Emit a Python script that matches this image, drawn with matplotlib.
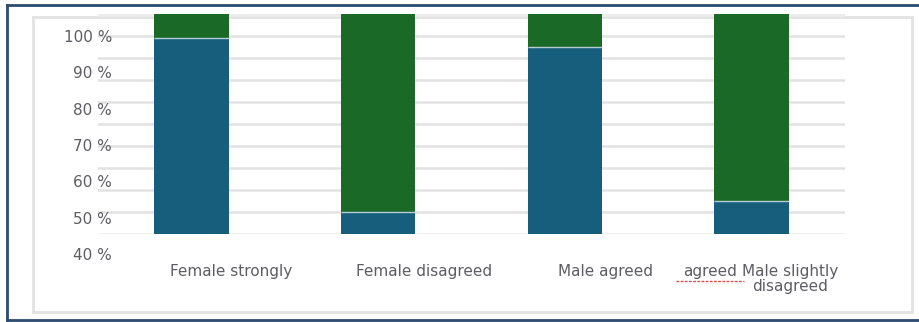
import numpy as np
import matplotlib
matplotlib.use("Agg")
import matplotlib.pyplot as plt
from matplotlib.patches import Rectangle
from matplotlib.lines import Line2D

# data (share of answers, %)
categories = ["Female strongly", "Female disagreed", "Male agreed", "Male slightly\ndisagreed"]
blue_share = [89, 10, 85, 15]
green_share = [11, 90, 15, 85]
tick_values = [40, 50, 60, 70, 80, 90, 100]

W, H = 920, 322
fig = plt.figure(figsize=(W / 100, H / 100), dpi=100)
plt.rcParams['font.family'] = ['DejaVu Sans']

txt_col = '#5d5d63'
blue = '#175e7d'
green = '#1b6926'

# main plot area
ax = fig.add_axes([98 / W, 1 - 234 / H, 747 / W, 220 / H])
x = np.arange(len(categories))
ax.bar(x, blue_share, width=0.40, color=blue, linewidth=0, zorder=3)
ax.bar(x, green_share, width=0.40, bottom=blue_share, color=green, linewidth=0, zorder=3)
# thin light seam between the two segments
ax.hlines(blue_share, x - 0.2, x + 0.2, color='#b8ccd6', lw=1, zorder=4)
ax.set_xlim(-0.5, 3.5)
ax.set_ylim(0, 100)
for v in range(10, 100, 10):
    ax.axhline(v, color='#e2e2e2', lw=1.8, zorder=1)
ax.axhline(100, color='#ececec', lw=3.5, zorder=1)
ax.axhline(0, color='#ececec', lw=2, zorder=1)
for s in ax.spines.values():
    s.set_visible(False)
ax.set_xticks([])
ax.set_yticks([])
ax.patch.set_alpha(0)

# y labels (they sit on their own scale in the original)
lab = fig.add_axes([115 / W, 1 - 254 / H, 0.001, 218 / H])
lab.set_ylim(40, 100)
lab.set_yticks(tick_values)
lab.set_yticklabels([f"{v} %" for v in tick_values], fontsize=11, color=txt_col)
lab.tick_params(axis='y', length=0, pad=2)
lab.set_xticks([])
for s in lab.spines.values():
    s.set_visible(False)
lab.patch.set_alpha(0)

# category labels
label_px = [231, 424, 605, 790]
for name, px in zip(categories, label_px):
    fig.text(px / W, 1 - 264 / H, name, ha='center', va='top', fontsize=11,
             color=txt_col, linespacing=1.0)
fig.text(710 / W, 1 - 264 / H, "agreed", ha='center', va='top', fontsize=11, color=txt_col)
fig.add_artist(Line2D([676 / W, 744 / W], [1 - 281 / H, 1 - 281 / H],
                      color='#e04a4a', lw=1, ls=(0, (2, 1))))

# frames (behind the axes)
frame = Rectangle((33 / W, 1 - 312 / H), 879 / W, 295 / H, fill=False,
                  edgecolor='#e2e2e2', lw=2, transform=fig.transFigure, zorder=-1)
fig.add_artist(frame)
navy = '#2c4b70'
fig.add_artist(Line2D([7 / W, 1], [1 - 4.5 / H, 1 - 4.5 / H], color=navy, lw=2))
fig.add_artist(Line2D([7 / W, 1], [1 - 319.5 / H, 1 - 319.5 / H], color=navy, lw=2))
fig.add_artist(Line2D([7.5 / W, 7.5 / W], [1 - 4.5 / H, 1 - 319.5 / H], color=navy, lw=2))

fig.savefig("out.png", dpi=100)
